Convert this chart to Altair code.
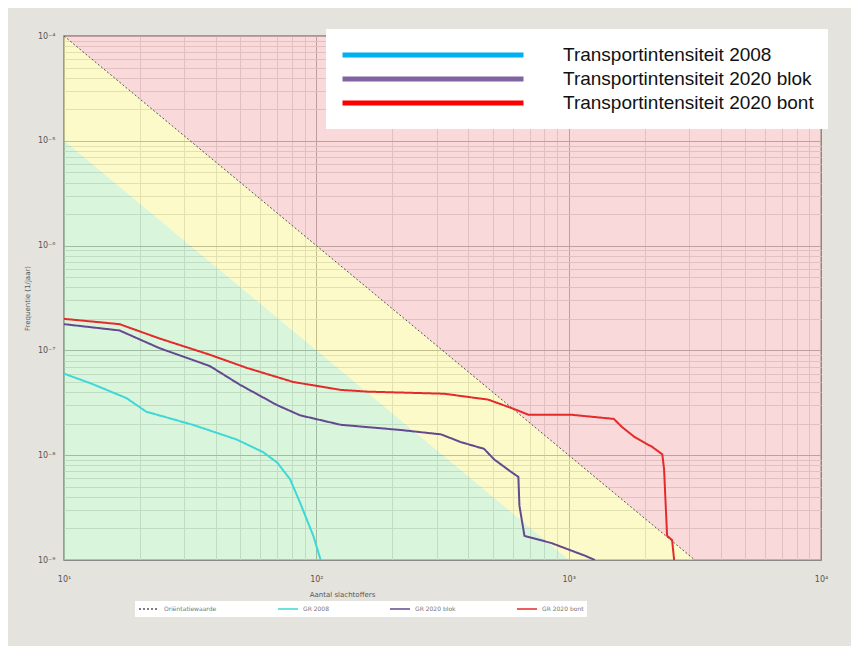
import altair as alt
import pandas as pd

# ---------------- data ----------------
serie_namen = ["Transportintensiteit 2008", "Transportintensiteit 2020 blok", "Transportintensiteit 2020 bont"]
serie_kort = ["GR 2008", "GR 2020 blok", "GR 2020 bont"]
ow_naam = "Oriëntatiewaarde"

n_2008 = [10, 12.9, 17.7, 21.2, 32.4, 48.4, 61.5, 70.0, 78.7, 86.3, 97.3, 104]
f_2008 = [6.0e-8, 4.8e-8, 3.5e-8, 2.6e-8, 1.95e-8, 1.41e-8, 1.07e-8, 8.5e-9, 5.9e-9, 3.5e-9, 1.7e-9, 1.0e-9]

n_blok = [10, 16.6, 23.9, 37.8, 49.8, 70.0, 86.3, 125, 216, 312, 375, 462, 507, 593, 632, 638, 668, 855, 1159, 1271]
f_blok = [1.78e-7, 1.55e-7, 1.05e-7, 7.1e-8, 4.7e-8, 3.0e-8, 2.4e-8, 1.95e-8, 1.74e-8, 1.58e-8, 1.33e-8,
          1.15e-8, 9.1e-9, 6.9e-9, 6.2e-9, 3.3e-9, 1.7e-9, 1.45e-9, 1.1e-9, 1.0e-9]

n_bont = [10, 16.6, 23.9, 37.8, 53.1, 80.9, 125, 160, 321, 480, 610, 693, 1028, 1510, 1626, 1832, 2143,
          2350, 2388, 2455, 2570, 2618]
f_bont = [2.0e-7, 1.78e-7, 1.30e-7, 9.1e-8, 6.8e-8, 5.0e-8, 4.2e-8, 4.04e-8, 3.86e-8, 3.39e-8, 2.75e-8,
          2.43e-8, 2.43e-8, 2.22e-8, 1.86e-8, 1.48e-8, 1.20e-8, 1.02e-8, 7.4e-9, 1.7e-9, 1.55e-9, 1.0e-9]

# orientation value line (10^-2 / N^2) and band limits
ow_n = [10, 3162.3]
ow_f = [1e-4, 1e-9]
band_n = [10, 10000]
band_ow = [1e-4, 1e-10]
band_ow10 = [1e-5, 1e-11]
band_top = [1e-4, 1e-4]
band_bot = [1e-9, 1e-9]

x_decades = [10, 100, 1000]
y_decades = [1e-9, 1e-8, 1e-7, 1e-6, 1e-5]
x_grid = [d * k for d in x_decades for k in range(1, 10)] + [10000]
y_grid = [d * k for d in y_decades for k in range(1, 10)] + [1e-4]

sup = {"1": "¹", "2": "²", "3": "³", "4": "⁴", "5": "⁵", "6": "⁶", "7": "⁷", "8": "⁸", "9": "⁹", "-": "⁻"}


def label_expr(exps):
    e = "round(log(datum.value)/LN10)"
    expr = "''"
    for ex in reversed(exps):
        s = "10" + "".join(sup[c] for c in str(ex))
        expr = f"({e} == {ex} && abs(log(datum.value)/LN10 - {e}) < 0.001) ? '{s}' : {expr}"
    return expr


major_test = "abs(log(datum.value)/LN10 - round(log(datum.value)/LN10)) < 0.001"

# ---------------- tables ----------------
rows = []
for naam, kort, ns, fs in zip(serie_namen, serie_kort, [n_2008, n_blok, n_bont], [f_2008, f_blok, f_bont]):
    for i, (n, f) in enumerate(zip(ns, fs)):
        rows.append({"N": n, "F": f, "serie": naam, "kort": kort, "volg": i})
curves = pd.DataFrame(rows)
ow_df = pd.DataFrame({"N": ow_n, "F": ow_f, "kort": [ow_naam, ow_naam], "volg": [0, 1]})
bands = pd.DataFrame({"N": band_n, "ow": band_ow, "ow10": band_ow10, "top": band_top, "bot": band_bot})

# ---------------- scales / axes ----------------
xscale = alt.Scale(type="log", domain=[10, 10000], nice=False)
yscale = alt.Scale(type="log", domain=[1e-9, 1e-4], nice=False)

grid_col = {"condition": {"test": major_test, "value": "#8a8a8a"}, "value": "#cdcdcd"}

xaxis = alt.Axis(values=x_grid, labelExpr=label_expr([1, 2, 3, 4]), grid=True, gridColor=grid_col,
                 ticks=False, domain=False, labelFontSize=8, labelColor="#555555", labelPadding=15,
                 labelFlush=False, labelFont="DejaVu Sans",
                 title="Aantal slachtoffers", titleFontSize=7, titleFontWeight="normal",
                 titleColor="#555555", titleX=278, titleY=30, titleFont="DejaVu Sans")
yaxis = alt.Axis(values=y_grid, labelExpr=label_expr([-9, -8, -7, -6, -5, -4]), grid=True, gridColor=grid_col,
                 ticks=False, domain=False, labelFontSize=8, labelColor="#555555", labelPadding=9,
                 labelFlush=False, labelFont="DejaVu Sans",
                 title="Frequentie (1/jaar)", titleFontSize=7, titleFontWeight="normal",
                 titleColor="#555555", titleX=-34, titleFont="DejaVu Sans")

X = alt.X("N:Q", scale=xscale, axis=xaxis)

band_op = 0.5
pink = alt.Chart(bands).mark_area(color="#f3b4b4", opacity=band_op, clip=True).encode(
    x=X, y=alt.Y("ow:Q", scale=yscale, axis=yaxis), y2="top:Q")
yellow = alt.Chart(bands).mark_area(color="#f9f593", opacity=band_op, clip=True).encode(
    x=X, y=alt.Y("ow10:Q", scale=yscale, axis=yaxis), y2="ow:Q")
green = alt.Chart(bands).mark_area(color="#b3ecb9", opacity=band_op, clip=True).encode(
    x=X, y=alt.Y("bot:Q", scale=yscale, axis=yaxis), y2="ow10:Q")

# bottom legend (small, like the original tool's legend)
bottom_legend = alt.Legend(orient="none", legendX=71, legendY=565, direction="horizontal", title=None,
                           fillColor="white", padding=3, symbolType="stroke", symbolSize=400,
                           symbolStrokeWidth=1.5, labelFontSize=6, labelColor="#777777", columnPadding=60,
                           clipHeight=10, labelOffset=4, labelFont="DejaVu Sans")
kort_domain = [ow_naam] + serie_kort
kort_color = alt.Color("kort:N", scale=alt.Scale(domain=kort_domain,
                                                 range=["#555555", "#3fd8d8", "#64498f", "#e42a2a"]),
                       legend=bottom_legend)
kort_dash = alt.StrokeDash("kort:N", scale=alt.Scale(domain=kort_domain,
                                                     range=[[2, 2], [1, 0], [1, 0], [1, 0]]),
                           legend=bottom_legend)

ow_line = alt.Chart(ow_df).mark_line(strokeWidth=1, clip=True).encode(
    x=X, y=alt.Y("F:Q", scale=yscale, axis=yaxis), color=kort_color, strokeDash=kort_dash, order="volg:Q")
curve_lines = alt.Chart(curves).mark_line(strokeWidth=2, clip=True).encode(
    x=X, y=alt.Y("F:Q", scale=yscale, axis=yaxis), color=kort_color, strokeDash=kort_dash,
    detail="kort:N", order="volg:Q")
inner = alt.layer(ow_line, curve_lines)

# top-right legend
top_legend = alt.Legend(orient="none", legendX=262, legendY=-7, direction="vertical", title=None,
                        fillColor="white", padding=14, symbolType="stroke", symbolSize=181 ** 2,
                        symbolStrokeWidth=5, symbolOpacity=1, clipHeight=24, rowPadding=0, labelOffset=37,
                        labelFontSize=19, labelFont="Liberation Sans", labelColor="#111111", labelLimit=400)
legend_layer = alt.Chart(curves).mark_line(opacity=0).encode(
    x=X, y=alt.Y("F:Q", scale=yscale, axis=yaxis),
    color=alt.Color("serie:N", scale=alt.Scale(domain=serie_namen, range=["#00b0f0", "#8064a2", "#ff0000"]),
                    legend=top_legend),
    detail="serie:N", order="volg:Q")

chart = alt.layer(pink, yellow, green, inner, legend_layer).resolve_scale(
    color="independent", strokeDash="independent"
).properties(
    width=757, height=524,
    autosize=alt.AutoSizeParams(type="none"),
    padding={"left": 56, "top": 28, "right": 30, "bottom": 86},
    background="#e5e3de",
).configure_view(stroke="#7d867b", strokeWidth=1.5, fill="white")

chart.save("out.html", embed_options={"renderer": "svg", "actions": False})
